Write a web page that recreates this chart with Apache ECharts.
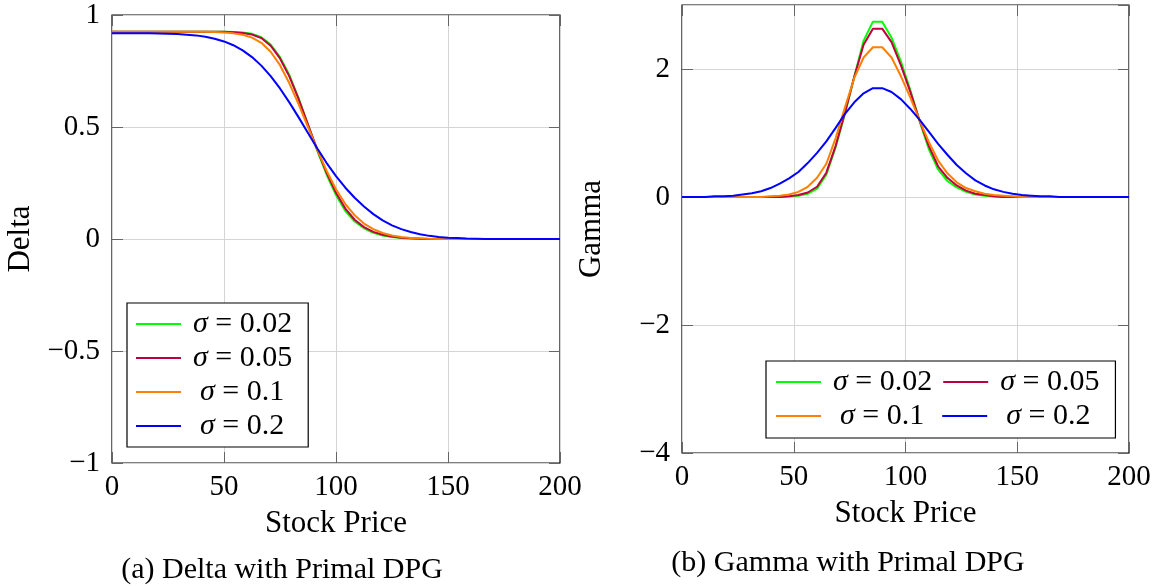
<!DOCTYPE html>
<html>
<head>
<meta charset="utf-8">
<script src="https://cdn.jsdelivr.net/npm/echarts@6/dist/echarts.min.js"></script>
<style>
  html, body { margin: 0; padding: 0; background: #fff; }
  #chart { width: 1159px; height: 586px; }
</style>
</head>
<body>
<div id="chart"></div>
<script>
// Stock price grid for Delta (mesh nodes) and Gamma (element midpoints plus ends)
const deltaPrice = [0, 4.17, 8.33, 12.5, 16.67, 20.83, 25, 29.17, 33.33, 37.5, 41.67, 45.83,
  50, 54.17, 58.33, 62.5, 66.67, 70.83, 75, 79.17, 83.33, 87.5, 91.67, 95.83,
  100, 104.17, 108.33, 112.5, 116.67, 120.83, 125, 129.17, 133.33, 137.5, 141.67, 145.83,
  150, 154.17, 158.33, 162.5, 166.67, 170.83, 175, 179.17, 183.33, 187.5, 191.67, 195.83, 200];

const gammaPrice = [0, 2.08, 6.25, 10.42, 14.58, 18.75, 22.92, 27.08, 31.25, 35.42, 39.58, 43.75,
  47.92, 52.08, 56.25, 60.42, 64.58, 68.75, 72.92, 77.08, 81.25, 85.42, 89.58, 93.75,
  97.92, 102.08, 106.25, 110.42, 114.58, 118.75, 122.92, 127.08, 131.25, 135.42, 139.58, 143.75,
  147.92, 152.08, 156.25, 160.42, 164.58, 168.75, 172.92, 177.08, 181.25, 185.42, 189.58, 193.75, 197.92, 200];

// Volatility levels and line colours
const sigmas = ['0.02', '0.05', '0.1', '0.2'];
const colors = ['#00ff00', '#bf0040', '#ff8000', '#0000ff'];

// Delta values, one array per sigma
const delta002 = [0.925, 0.925, 0.925, 0.925, 0.925, 0.925, 0.925, 0.925, 0.925, 0.925, 0.925, 0.925,
  0.925, 0.924, 0.922, 0.916, 0.901, 0.868, 0.812, 0.732, 0.628, 0.510, 0.393, 0.287,
  0.196, 0.125, 0.078, 0.048, 0.028, 0.016, 0.009, 0.004, 0.002, 0.001, 0, 0,
  0, 0, 0, 0, 0, 0, 0, 0, 0, 0, 0, 0, 0];
const delta005 = [0.925, 0.925, 0.925, 0.925, 0.925, 0.925, 0.925, 0.925, 0.925, 0.925, 0.925, 0.925,
  0.925, 0.923, 0.920, 0.913, 0.897, 0.863, 0.806, 0.726, 0.624, 0.511, 0.398, 0.295,
  0.206, 0.136, 0.086, 0.053, 0.032, 0.019, 0.011, 0.006, 0.003, 0.001, 0, 0,
  0, 0, 0, 0, 0, 0, 0, 0, 0, 0, 0, 0, 0];
const delta01 = [0.925, 0.925, 0.925, 0.925, 0.925, 0.925, 0.925, 0.925, 0.925, 0.925, 0.925, 0.924,
  0.922, 0.918, 0.912, 0.899, 0.876, 0.836, 0.776, 0.695, 0.601, 0.500, 0.398, 0.304,
  0.222, 0.156, 0.106, 0.069, 0.044, 0.027, 0.016, 0.009, 0.005, 0.003, 0.001, 0,
  0, 0, 0, 0, 0, 0, 0, 0, 0, 0, 0, 0, 0];
const delta02 = [0.918, 0.918, 0.918, 0.918, 0.918, 0.917, 0.916, 0.915, 0.912, 0.909, 0.903, 0.894,
  0.882, 0.865, 0.842, 0.812, 0.774, 0.727, 0.672, 0.610, 0.543, 0.473, 0.404, 0.339,
  0.281, 0.229, 0.184, 0.145, 0.111, 0.083, 0.061, 0.044, 0.031, 0.021, 0.014, 0.009,
  0.006, 0.004, 0.002, 0.001, 0, 0, 0, 0, 0, 0, 0, 0, 0];

// Gamma values, one array per sigma
const gamma002 = [0, 0, 0, 0, 0, 0, 0, 0, 0, 0, 0, 0,
  0.01, 0.02, 0.05, 0.13, 0.35, 0.78, 1.30, 1.88, 2.44, 2.74, 2.74, 2.49,
  2.12, 1.68, 1.19, 0.75, 0.43, 0.25, 0.15, 0.08, 0.04, 0.02, 0.01, 0,
  0, 0, 0, 0, 0, 0, 0, 0, 0, 0, 0, 0, 0, 0];
const gamma005 = [0, 0, 0, 0, 0, 0, 0, 0, 0, 0, 0, 0,
  0.01, 0.03, 0.07, 0.16, 0.38, 0.80, 1.32, 1.88, 2.38, 2.63, 2.63, 2.42,
  2.06, 1.65, 1.20, 0.80, 0.48, 0.30, 0.18, 0.10, 0.05, 0.03, 0.01, 0,
  0, 0, 0, 0, 0, 0, 0, 0, 0, 0, 0, 0, 0, 0];
const gamma01 = [0, 0, 0, 0, 0, 0, 0, 0, 0, 0, 0.01, 0.02,
  0.04, 0.08, 0.16, 0.30, 0.52, 0.92, 1.40, 1.86, 2.18, 2.34, 2.34, 2.18,
  1.89, 1.56, 1.20, 0.86, 0.57, 0.37, 0.23, 0.14, 0.09, 0.05, 0.03, 0.02,
  0.01, 0, 0, 0, 0, 0, 0, 0, 0, 0, 0, 0, 0, 0];
const gamma02 = [0, 0, 0, 0, 0.01, 0.01, 0.02, 0.04, 0.06, 0.09, 0.14, 0.21,
  0.29, 0.39, 0.53, 0.69, 0.87, 1.08, 1.30, 1.48, 1.62, 1.70, 1.70, 1.64,
  1.53, 1.38, 1.21, 1.02, 0.83, 0.66, 0.50, 0.37, 0.26, 0.18, 0.12, 0.08,
  0.05, 0.03, 0.02, 0.01, 0.01, 0, 0, 0, 0, 0, 0, 0, 0, 0];

// Axis ticks
const priceTicks = { min: 0, max: 200, interval: 50 };
const deltaTicks = { min: -1, max: 1, interval: 0.5 };
const gammaTicks = { min: -4, max: 3, interval: 2 };

const deltaSets = [delta002, delta005, delta01, delta02];
const gammaSets = [gamma002, gamma005, gamma01, gamma02];

const FONT = 'Liberation Serif';
const FS = 29;
const minus = v => String(v).replace('-', '\u2212');

function pairs(xs, ys) { return xs.map((x, i) => [x, ys[i]]); }

function lineSeries(name, color, xi, yi, data) {
  return {
    type: 'line', name: name, xAxisIndex: xi, yAxisIndex: yi,
    data: data, showSymbol: false, symbol: 'none', color: color,
    lineStyle: { width: 2, color: color }, animation: false, z: 3
  };
}

const tickStyle = { show: true, inside: true, length: 11, lineStyle: { color: '#666', width: 1 } };

function mainX(grid, name) {
  return {
    type: 'value', gridIndex: grid, position: 'bottom',
    min: priceTicks.min, max: priceTicks.max, interval: priceTicks.interval,
    axisLine: { show: false, onZero: false },
    axisTick: tickStyle,
    axisLabel: { margin: 10, color: '#000', fontFamily: FONT, fontSize: FS },
    splitLine: { show: true, lineStyle: { color: '#d4d4d4', width: 1 } },
    name: name, nameLocation: 'middle', nameGap: 45,
    nameTextStyle: { color: '#000', fontFamily: FONT, fontSize: 31 }
  };
}
function topX(grid) {
  return {
    type: 'value', gridIndex: grid, position: 'top',
    min: priceTicks.min, max: priceTicks.max, interval: priceTicks.interval,
    axisLine: { show: false, onZero: false },
    axisTick: tickStyle,
    axisLabel: { show: false }, splitLine: { show: false }
  };
}
function mainY(grid, ticks, name, gap) {
  return {
    type: 'value', gridIndex: grid, position: 'left',
    min: ticks.min, max: ticks.max, interval: ticks.interval,
    axisLine: { show: false, onZero: false },
    axisTick: tickStyle,
    axisLabel: { margin: 12, color: '#000', fontFamily: FONT, fontSize: FS, formatter: minus,
                 showMaxLabel: ticks.max === 1 },
    splitLine: { show: true, lineStyle: { color: '#d4d4d4', width: 1 } },
    name: name, nameLocation: 'middle', nameGap: gap, nameRotate: 90,
    nameTextStyle: { color: '#000', fontFamily: FONT, fontSize: 31 }
  };
}
function rightY(grid, ticks) {
  return {
    type: 'value', gridIndex: grid, position: 'right',
    min: ticks.min, max: ticks.max, interval: ticks.interval,
    axisLine: { show: false, onZero: false },
    axisTick: tickStyle,
    axisLabel: { show: false }, splitLine: { show: false }
  };
}

// Legend entries: italic sigma, upright value, centred in a fixed-width column
function legendText(n) {
  const pad = n.length < 4 ? '{w|}' : '{n|}';
  return pad + '{s|\u03c3}{t| = ' + n + '}' + pad;
}
const LH = 26;
const legendRich = {
  n: { width: 7, lineHeight: LH },
  w: { width: 14, lineHeight: LH },
  s: { fontFamily: FONT, fontStyle: 'italic', fontSize: 30, lineHeight: LH, color: '#000' },
  t: { fontFamily: FONT, fontSize: 30, lineHeight: LH, color: '#000' }
};
function legendBox(extra) {
  return Object.assign({
    data: sigmas, icon: 'rect', itemWidth: 45, itemHeight: 2, itemGap: 4,
    formatter: legendText,
    textStyle: { fontFamily: FONT, fontSize: 30, lineHeight: LH, color: '#000', rich: legendRich },
    borderColor: '#000', borderWidth: 1.2, backgroundColor: '#fff',
    selectedMode: false
  }, extra);
}

const series = [];
sigmas.forEach((s, k) => series.push(lineSeries(s, colors[k], 0, 0, pairs(deltaPrice, deltaSets[k]))));
sigmas.forEach((s, k) => series.push(lineSeries(s, colors[k], 2, 2, pairs(gammaPrice, gammaSets[k]))));

const chart = echarts.init(document.getElementById('chart'), null, { renderer: 'canvas' });
chart.setOption({
  animation: false,
  backgroundColor: '#fff',
  grid: [
    { left: 112, top: 15, width: 448, height: 448, show: true, borderColor: '#000', borderWidth: 1.2, backgroundColor: 'transparent' },
    { left: 682, top: 5, width: 447, height: 448, show: true, borderColor: '#000', borderWidth: 1.2, backgroundColor: 'transparent' }
  ],
  xAxis: [mainX(0, 'Stock Price'), topX(0), mainX(1, 'Stock Price'), topX(1)],
  yAxis: [mainY(0, deltaTicks, 'Delta', 76), rightY(0, deltaTicks), mainY(1, gammaTicks, 'Gamma', 75), rightY(1, gammaTicks)],
  legend: [
    legendBox({ orient: 'vertical', left: 127, top: 303, padding: [6, 9, 6, 9] }),
    legendBox({ orient: 'horizontal', left: 766, top: 361, width: 335, padding: [6, 9, 7, 10] })
  ],
  graphic: [
    { type: 'text', x: 282, y: 570, style: { text: '(a) Delta with Primal DPG', fontFamily: FONT, fontSize: 30, fill: '#000', textAlign: 'center', textVerticalAlign: 'middle' } },
    { type: 'text', x: 848, y: 563, style: { text: '(b) Gamma with Primal DPG', fontFamily: FONT, fontSize: 30, fill: '#000', textAlign: 'center', textVerticalAlign: 'middle' } }
  ],
  series: series
});
</script>
</body>
</html>
